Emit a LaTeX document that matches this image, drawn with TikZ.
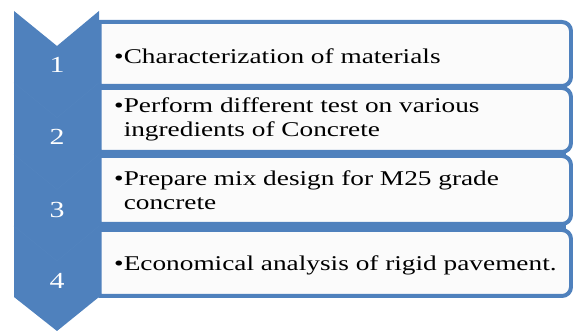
\documentclass[tikz,border=0pt]{standalone}
\usepackage{fontspec}
\setmainfont{Liberation Serif}
\newfontfamily\stepfont[FakeStretch=1.3]{Liberation Serif}

\definecolor{chevblue}{HTML}{4F81BD}
\definecolor{seamblue}{HTML}{5384BF}
\definecolor{boxwhite}{HTML}{FBFBFB}

\tikzset{
  boxline/.style={draw=chevblue,line width=4pt,fill=boxwhite,line join=round},
  steptext/.style={anchor=base west,inner sep=0pt,align=left,
    font=\stepfont\fontsize{21}{24.5}\selectfont},
  stepnum/.style={inner sep=0pt,text=white,
    font=\stepfont\fontsize{23}{27}\selectfont}
}

% one box on the right: top y, bottom y
\newcommand{\listbox}[2]{%
  \draw[boxline] (99.5,#1) -- (562,#1) arc[start angle=90,end angle=0,radius=9]
    -- (571,#2+9) arc[start angle=0,end angle=-90,radius=9] -- (99.5,#2) -- cycle;}

\begin{document}
\begin{tikzpicture}[x=1pt,y=1pt]
  \useasboundingbox (0,0) rectangle (573,331);

  % blue band behind the boxes
  \fill[chevblue] (99,245) rectangle (566,101);

  \listbox{309}{245}
  \listbox{243}{179}
  \listbox{175}{107}
  \listbox{101}{35}

  % chevron column
  \fill[chevblue] (14,320) -- (57,285) -- (99,320) -- (99,34) -- (57,0) -- (14,34) -- cycle;
  \foreach \y in {248.3,176.6,105}
    \draw[seamblue,line width=0.5pt] (14,\y) -- (57,\y-35) -- (99,\y);

  \begin{scope}[every node/.style={stepnum}]
    \node (n1) at (57,266) {1};
    \node (n2) at (57,194) {2};
    \node (n3) at (57,121) {3};
    \node (n4) at (57,50)  {4};
  \end{scope}

  % base anchor sits on the last line
  \begin{scope}[every node/.style={steptext}]
    \node (t1) at (114,267) {•Characterization of materials};
    \node (t2) at (114,194) {•Perform different test on various\\\hphantom{•}ingredients of Concrete};
    \node (t3) at (114,121) {•Prepare mix design for M25 grade\\\hphantom{•}concrete};
    \node (t4) at (114,60.3) {•Economical analysis of rigid pavement.};
  \end{scope}

\end{tikzpicture}
\end{document}
